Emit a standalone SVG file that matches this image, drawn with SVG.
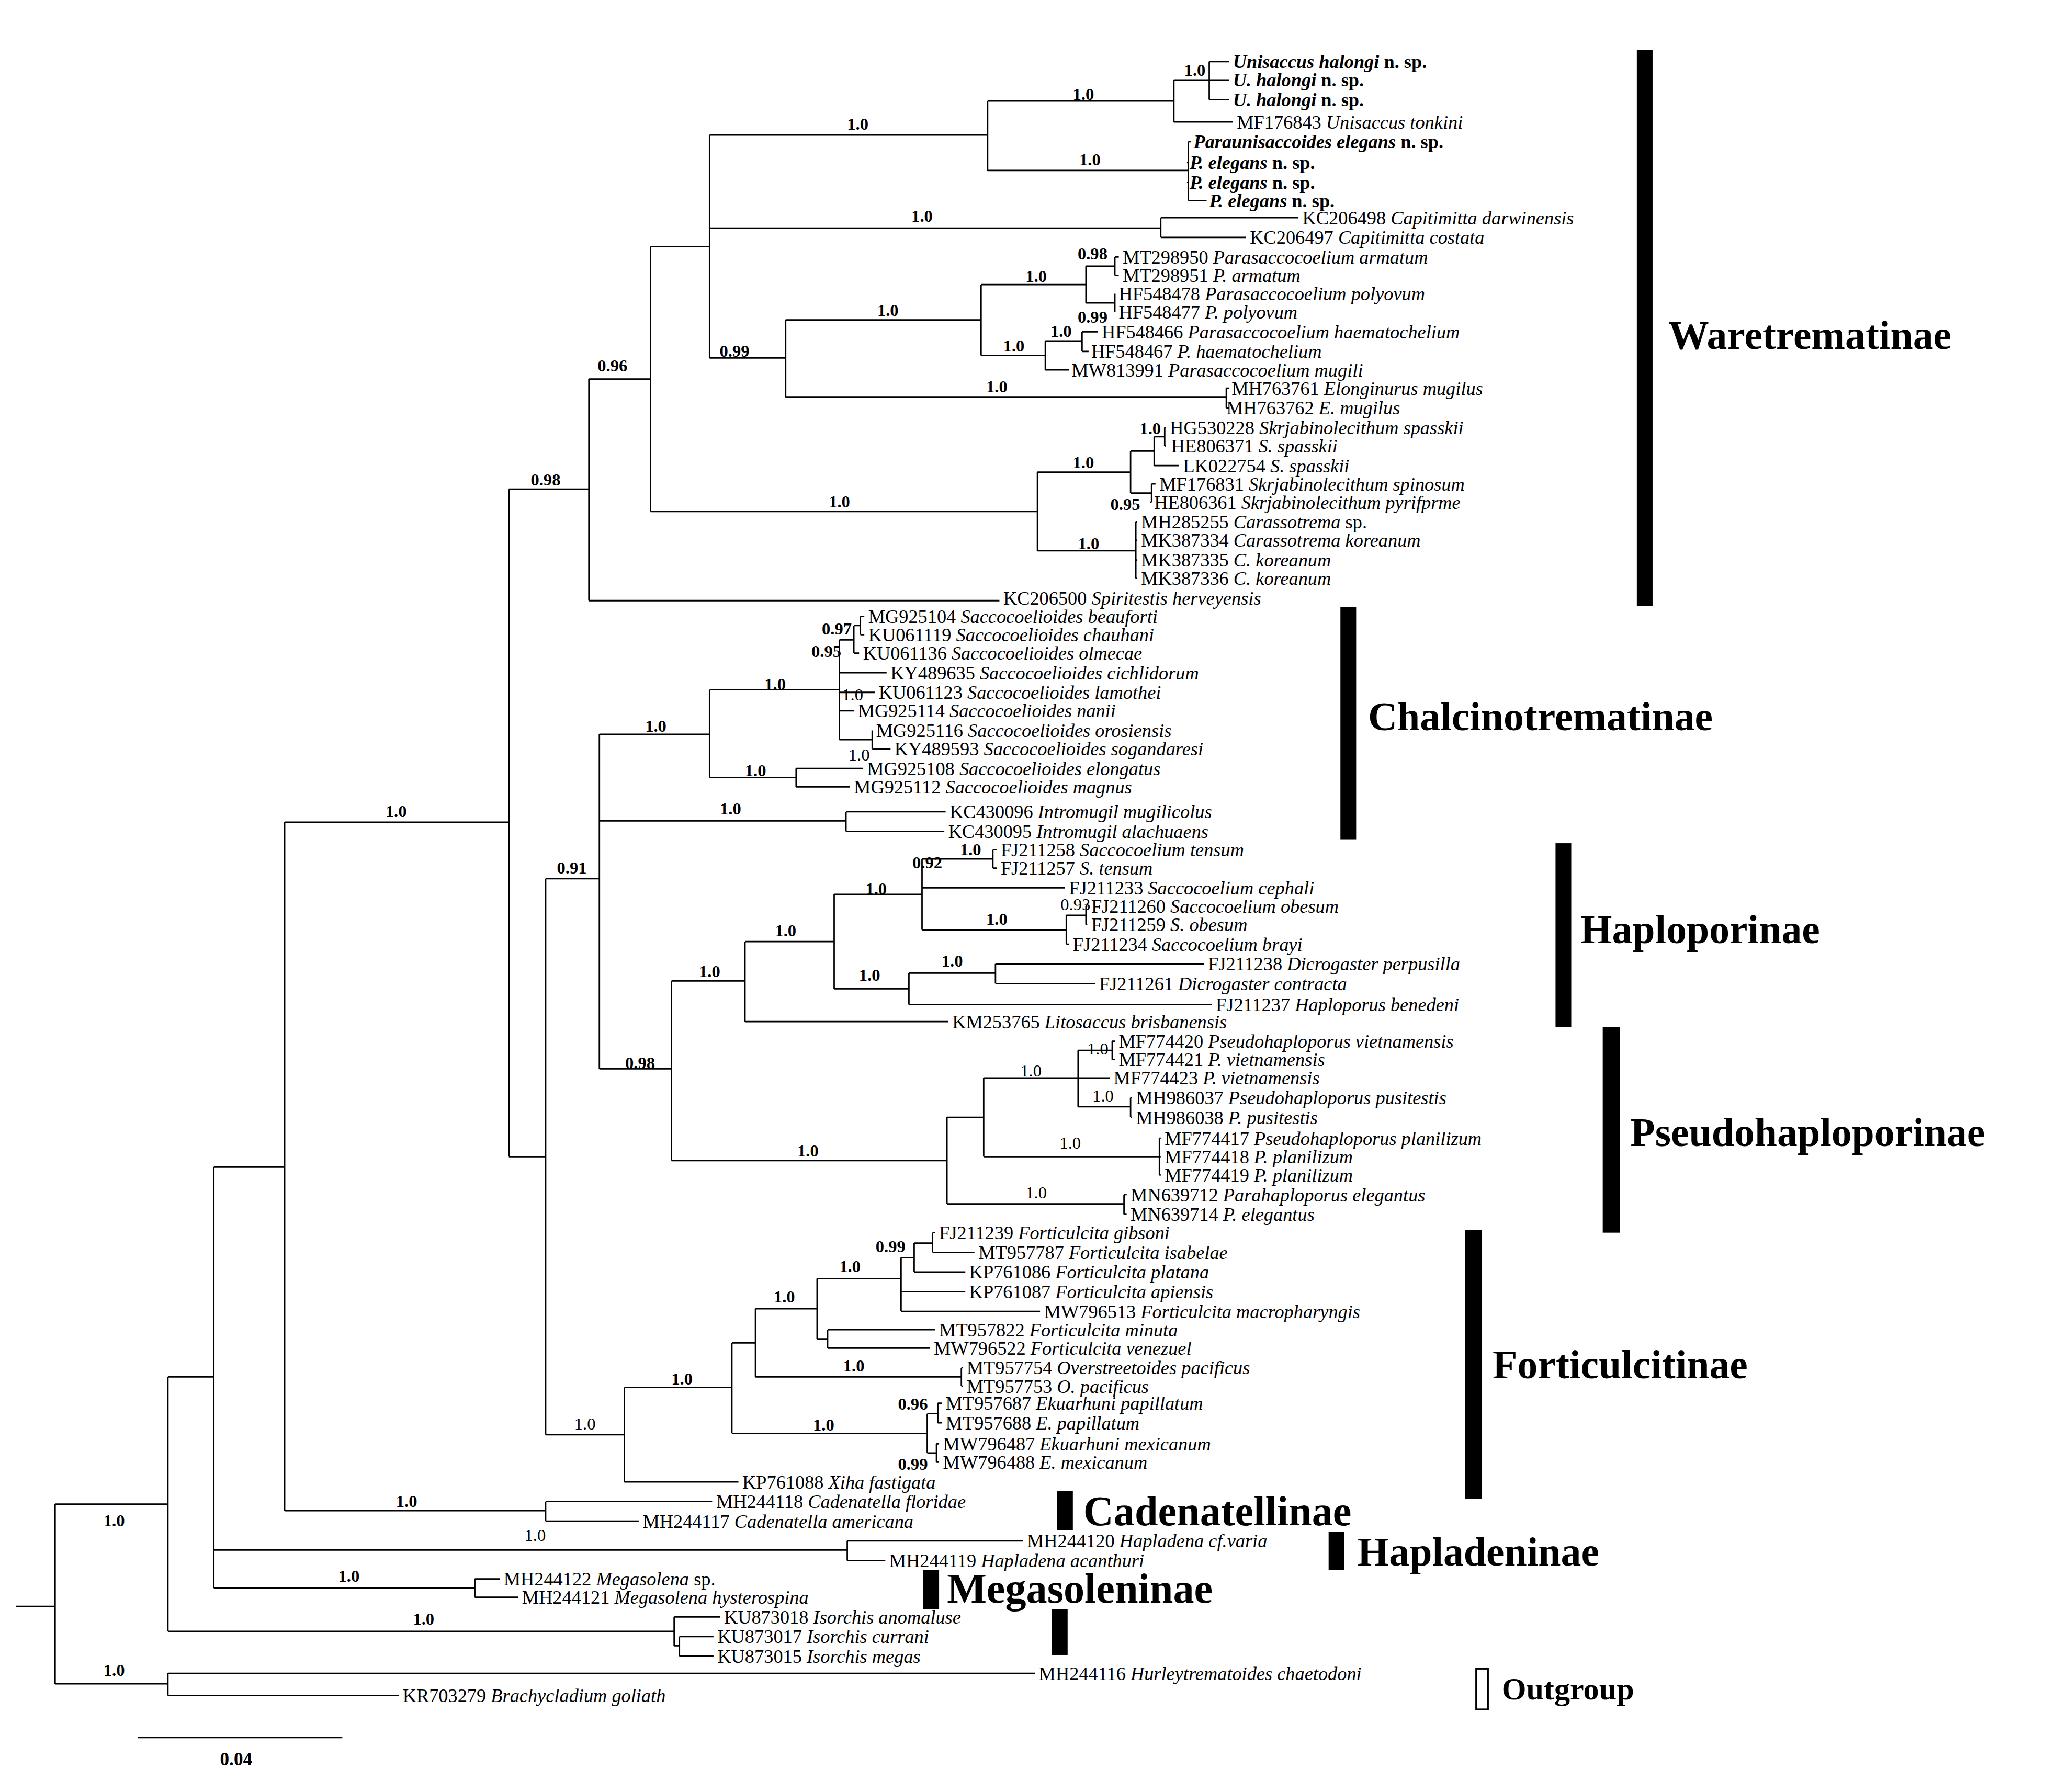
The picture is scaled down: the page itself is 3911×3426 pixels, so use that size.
<svg xmlns="http://www.w3.org/2000/svg" width="3911" height="3426" viewBox="0 0 3911 3426">
<style>
.t{font-family:"Liberation Serif",serif;font-size:14.5px;fill:#000}
.i{font-style:italic}
.b{font-weight:bold}
.s{font-family:"Liberation Serif",serif;font-size:13px;font-weight:bold;text-anchor:middle}
.n{font-family:"Liberation Serif",serif;font-size:13px;text-anchor:middle}
.c{font-family:"Liberation Serif",serif;font-weight:bold;font-size:31px}
.e{fill:none;stroke:#000;stroke-width:1.1}
</style>
<rect width="3911" height="3426" fill="#fff"/>
<g transform="scale(2.5071)">
<g id="connectors">
<path class="e" d="M922 47H937M922 61H937M922 76H937M922 47V76M895 61H922M895 93H940M895 61V93M753 77H895M906 108H908M906 124H905M906 139H905M906 153H920M906 108V153M753 130H906M753 77V130M541 103H753
M885 166H990M885 181H950M885 166V181M541 174H885
M850 196H853M850 210H853M850 196V210M850 224H850M850 238H850M850 224V238M828 203H850M828 231H850M828 203V231M748 217H828
M825 253H837M825 268H830M825 253V268M797 260H825M797 282H815M797 260V282M748 271H797M748 217V271M599 244H748
M935 296H937M935 311H937M935 296V311M599 303H935M599 244V303M541 273H599M541 103V273M496 188H541
M888 326H889M888 340H889M888 326V340M880 333H888M880 355H899M880 333V355M862 344H880M878 369H881M878 383H877M878 369V383M862 376H878M862 344V376M791 360H862
M866 398H867M866 412H867M866 427H867M866 441H867M866 398V441M791 420H866M791 360V420M496 390H791M496 188V390M449 289H496M449 458H762M449 289V458M388 373H449
M656 470H659M656 484H659M656 470V484M651 477H656M651 498H655M651 477V498M640 488H651M640 513H676M640 528H667M640 542H651M665 557H665M665 571H679M665 557V571M640 564H665M640 488V564M541 526H640
M607 586H658M607 600H648M607 586V600M541 593H607M541 526V593M457 560H541M645 619H721M645 634H720M645 619V634M457 626H645
M757 648H760M757 662H760M757 648V662M703 655H757M703 677H812M828 691H829M828 705H829M828 691V705M813 698H828M813 720H815M813 698V720M703 709H813M703 655V709M636 682H703
M759 735H918M759 750H835M759 735V750M693 742H759M693 766H924M693 742V766M636 754H693M636 682V754M568 718H636M568 779H723M568 718V779M512 748H568
M848 794H850M848 808H850M848 794V808M822 801H848M822 822H846M862 837H863M862 852H863M862 837V852M822 844H862M822 801V844M750 822H822M884 868H885M884 882H885M884 896H885M884 868V896M750 882H884M750 822V882M722 852H750M857 911H859M857 926H859M857 911V926M722 918H857M722 852V918M512 885H722M512 748V885M457 815H512M457 560V815M416 670H457
M711 940H713M711 955H743M711 940V955M697 948H711M697 970H736M697 948V970M687 959H697M687 985H736M687 1000H793M687 959V1000M623 975H687M631 1014H713M631 1028H709M631 1014V1028M623 1021H631M623 975V1021M576 998H623M733 1043H734M733 1057H734M733 1043V1057M576 1050H733M576 998V1050M558 1024H576
M715 1070H718M715 1085H718M715 1070V1085M707 1078H715M714 1101H716M714 1115H716M714 1101V1115M707 1108H714M707 1078V1108M558 1093H707M558 1024V1093M476 1058H558M476 1130H563M476 1058V1130M416 1094H476M416 670V1094M388 882H416M388 373V882M217 627H388
M416 1145H543M416 1160H487M416 1145V1160M217 1152H416M217 627V1152M163 890H217M646 1175H780M646 1190H675M646 1175V1190M163 1182H646M362 1204H381M362 1218H395M362 1204V1218M163 1211H362M163 890V1211M128 1050H163
M514 1233H549M518 1248H544M518 1263H544M518 1248V1263M514 1255H518M514 1233V1255M128 1244H514M128 1050V1244M42 1147H128M128 1276H789M128 1293H304M128 1276V1293M42 1284H128M42 1147V1284M12 1225H42
M105 1325H261"/>
</g>
<g id="tips" class="t">
<text x="940" y="52" class="b"><tspan class="i">Unisaccus halongi</tspan> n. sp.</text>
<text x="940" y="66" class="b"><tspan class="i">U. halongi</tspan> n. sp.</text>
<text x="940" y="81" class="b"><tspan class="i">U. halongi</tspan> n. sp.</text>
<text x="943" y="98">MF176843 <tspan class="i">Unisaccus tonkini</tspan></text>
<text x="910" y="113" class="b"><tspan class="i">Paraunisaccoides elegans</tspan> n. sp.</text>
<text x="907" y="129" class="b"><tspan class="i">P. elegans</tspan> n. sp.</text>
<text x="907" y="144" class="b"><tspan class="i">P. elegans</tspan> n. sp.</text>
<text x="922" y="158" class="b"><tspan class="i">P. elegans</tspan> n. sp.</text>
<text x="993" y="171">KC206498 <tspan class="i">Capitimitta darwinensis</tspan></text>
<text x="953" y="186">KC206497 <tspan class="i">Capitimitta costata</tspan></text>
<text x="856" y="201">MT298950 <tspan class="i">Parasaccocoelium armatum</tspan></text>
<text x="856" y="215">MT298951 <tspan class="i">P. armatum</tspan></text>
<text x="853" y="229">HF548478 <tspan class="i">Parasaccocoelium polyovum</tspan></text>
<text x="853" y="243">HF548477 <tspan class="i">P. polyovum</tspan></text>
<text x="840" y="258">HF548466 <tspan class="i">Parasaccocoelium haematochelium</tspan></text>
<text x="832" y="273">HF548467 <tspan class="i">P. haematochelium</tspan></text>
<text x="817" y="287">MW813991 <tspan class="i">Parasaccocoelium  mugili</tspan></text>
<text x="939" y="301">MH763761 <tspan class="i">Elonginurus mugilus</tspan></text>
<text x="935" y="316">MH763762 <tspan class="i">E. mugilus</tspan></text>
<text x="892" y="331">HG530228 <tspan class="i">Skrjabinolecithum spasskii</tspan></text>
<text x="893" y="345">HE806371 <tspan class="i">S. spasskii</tspan></text>
<text x="902" y="360">LK022754 <tspan class="i">S. spasskii</tspan></text>
<text x="884" y="374">MF176831 <tspan class="i">Skrjabinolecithum spinosum</tspan></text>
<text x="880" y="388">HE806361 <tspan class="i">Skrjabinolecithum pyrifprme</tspan></text>
<text x="870" y="403">MH285255 <tspan class="i">Carassotrema</tspan> sp.</text>
<text x="870" y="417">MK387334 <tspan class="i">Carassotrema koreanum</tspan></text>
<text x="870" y="432">MK387335 <tspan class="i">C. koreanum</tspan></text>
<text x="870" y="446">MK387336 <tspan class="i">C. koreanum</tspan></text>
<text x="765" y="461">KC206500 <tspan class="i">Spiritestis herveyensis</tspan></text>
<text x="662" y="475">MG925104 <tspan class="i">Saccocoelioides beauforti</tspan></text>
<text x="662" y="489">KU061119 <tspan class="i">Saccocoelioides chauhani</tspan></text>
<text x="658" y="503">KU061136 <tspan class="i">Saccocoelioides olmecae</tspan></text>
<text x="679" y="518">KY489635 <tspan class="i">Saccocoelioides cichlidorum</tspan></text>
<text x="670" y="533">KU061123 <tspan class="i">Saccocoelioides lamothei</tspan></text>
<text x="654" y="547">MG925114 <tspan class="i">Saccocoelioides nanii</tspan></text>
<text x="668" y="562">MG925116 <tspan class="i">Saccocoelioides orosiensis</tspan></text>
<text x="682" y="576">KY489593 <tspan class="i">Saccocoelioides sogandaresi</tspan></text>
<text x="661" y="591">MG925108 <tspan class="i">Saccocoelioides elongatus</tspan></text>
<text x="651" y="605">MG925112 <tspan class="i">Saccocoelioides magnus</tspan></text>
<text x="724" y="624">KC430096 <tspan class="i">Intromugil mugilicolus</tspan></text>
<text x="723" y="639">KC430095 <tspan class="i">Intromugil alachuaens</tspan></text>
<text x="763" y="653">FJ211258 <tspan class="i">Saccocoelium tensum</tspan></text>
<text x="763" y="667">FJ211257 <tspan class="i">S. tensum</tspan></text>
<text x="815" y="682">FJ211233 <tspan class="i">Saccocoelium cephali</tspan></text>
<text x="832" y="696">FJ211260 <tspan class="i">Saccocoelium obesum</tspan></text>
<text x="832" y="710">FJ211259 <tspan class="i">S. obesum</tspan></text>
<text x="818" y="725">FJ211234 <tspan class="i">Saccocoelium brayi</tspan></text>
<text x="921" y="740">FJ211238 <tspan class="i">Dicrogaster perpusilla</tspan></text>
<text x="838" y="755">FJ211261 <tspan class="i">Dicrogaster contracta</tspan></text>
<text x="927" y="771">FJ211237 <tspan class="i">Haploporus benedeni</tspan></text>
<text x="726" y="784">KM253765 <tspan class="i">Litosaccus brisbanensis</tspan></text>
<text x="853" y="799">MF774420 <tspan class="i">Pseudohaploporus vietnamensis</tspan></text>
<text x="853" y="813">MF774421 <tspan class="i">P. vietnamensis</tspan></text>
<text x="849" y="827">MF774423 <tspan class="i">P. vietnamensis</tspan></text>
<text x="866" y="842">MH986037 <tspan class="i">Pseudohaploporus pusitestis</tspan></text>
<text x="866" y="857">MH986038 <tspan class="i">P. pusitestis</tspan></text>
<text x="888" y="873">MF774417 <tspan class="i">Pseudohaploporus planilizum</tspan></text>
<text x="888" y="887">MF774418 <tspan class="i">P. planilizum</tspan></text>
<text x="888" y="901">MF774419 <tspan class="i">P. planilizum</tspan></text>
<text x="862" y="916">MN639712 <tspan class="i">Parahaploporus elegantus</tspan></text>
<text x="862" y="931">MN639714 <tspan class="i">P. elegantus</tspan></text>
<text x="716" y="945">FJ211239 <tspan class="i">Forticulcita gibsoni</tspan></text>
<text x="746" y="960">MT957787 <tspan class="i">Forticulcita isabelae</tspan></text>
<text x="739" y="975">KP761086 <tspan class="i">Forticulcita platana</tspan></text>
<text x="739" y="990">KP761087 <tspan class="i">Forticulcita apiensis</tspan></text>
<text x="796" y="1005">MW796513 <tspan class="i">Forticulcita macropharyngis</tspan></text>
<text x="716" y="1019">MT957822 <tspan class="i">Forticulcita minuta</tspan></text>
<text x="712" y="1033">MW796522 <tspan class="i">Forticulcita venezuel</tspan></text>
<text x="737" y="1048">MT957754 <tspan class="i">Overstreetoides  pacificus</tspan></text>
<text x="737" y="1062">MT957753 <tspan class="i">O. pacificus</tspan></text>
<text x="721" y="1075">MT957687 <tspan class="i">Ekuarhuni papillatum</tspan></text>
<text x="721" y="1090">MT957688 <tspan class="i">E. papillatum</tspan></text>
<text x="719" y="1106">MW796487 <tspan class="i">Ekuarhuni mexicanum</tspan></text>
<text x="719" y="1120">MW796488 <tspan class="i">E. mexicanum</tspan></text>
<text x="566" y="1135">KP761088 <tspan class="i">Xiha fastigata</tspan></text>
<text x="546" y="1150">MH244118 <tspan class="i">Cadenatella floridae</tspan></text>
<text x="490" y="1165">MH244117 <tspan class="i">Cadenatella americana</tspan></text>
<text x="783" y="1180">MH244120  <tspan class="i">Hapladena  cf.varia</tspan></text>
<text x="678" y="1195">MH244119 <tspan class="i">Hapladena acanthuri</tspan></text>
<text x="384" y="1209">MH244122 <tspan class="i">Megasolena</tspan> sp.</text>
<text x="398" y="1223">MH244121 <tspan class="i">Megasolena hysterospina</tspan></text>
<text x="552" y="1238">KU873018 <tspan class="i">Isorchis anomaluse</tspan></text>
<text x="547" y="1253">KU873017 <tspan class="i">Isorchis currani</tspan></text>
<text x="547" y="1268">KU873015 <tspan class="i">Isorchis megas</tspan></text>
<text x="792" y="1281">MH244116 <tspan class="i">Hurleytrematoides chaetodoni</tspan></text>
<text x="307" y="1298">KR703279 <tspan class="i">Brachycladium goliath</tspan></text>
</g>
<g id="support">
<text class="s" x="911" y="58">1.0</text><text class="s" x="826" y="76">1.0</text><text class="s" x="831" y="126">1.0</text><text class="s" x="654" y="99">1.0</text><text class="s" x="703" y="169">1.0</text>
<text class="s" x="833" y="198">0.98</text><text class="s" x="833" y="246">0.99</text><text class="s" x="809" y="257">1.0</text><text class="s" x="773" y="268">1.0</text><text class="s" x="790" y="215">1.0</text><text class="s" x="677" y="241">1.0</text><text class="s" x="560" y="272">0.99</text><text class="s" x="760" y="299">1.0</text><text class="s" x="467" y="283">0.96</text>
<text class="s" x="877" y="331">1.0</text><text class="s" x="858" y="389">0.95</text><text class="s" x="826" y="357">1.0</text><text class="s" x="830" y="419">1.0</text><text class="s" x="640" y="387">1.0</text><text class="s" x="416" y="370">0.98</text>
<text class="s" x="638" y="484">0.97</text><text class="s" x="630" y="501">0.95</text><text class="n" x="650" y="534">1.0</text><text class="n" x="655" y="580">1.0</text><text class="s" x="591" y="526">1.0</text><text class="s" x="576" y="592">1.0</text><text class="s" x="500" y="558">1.0</text><text class="s" x="557" y="621">1.0</text><text class="s" x="436" y="666">0.91</text>
<text class="s" x="740" y="652">1.0</text><text class="s" x="707" y="662">0.92</text><text class="n" x="820" y="694">0.93</text><text class="s" x="760" y="705">1.0</text><text class="s" x="668" y="682">1.0</text><text class="s" x="726" y="737">1.0</text><text class="s" x="663" y="748">1.0</text><text class="s" x="599" y="714">1.0</text><text class="s" x="541" y="745">1.0</text>
<text class="n" x="837" y="804">1.0</text><text class="n" x="841" y="840">1.0</text><text class="n" x="786" y="821">1.0</text><text class="n" x="816" y="876">1.0</text><text class="n" x="790" y="914">1.0</text><text class="s" x="616" y="882">1.0</text><text class="s" x="488" y="815">0.98</text>
<text class="s" x="679" y="955">0.99</text><text class="s" x="648" y="970">1.0</text><text class="s" x="598" y="993">1.0</text><text class="s" x="651" y="1046">1.0</text><text class="s" x="520" y="1056">1.0</text><text class="s" x="696" y="1075">0.96</text><text class="s" x="696" y="1121">0.99</text><text class="s" x="628" y="1091">1.0</text><text class="n" x="446" y="1090">1.0</text>
<text class="s" x="302" y="623">1.0</text><text class="s" x="310" y="1149">1.0</text><text class="n" x="408" y="1175">1.0</text><text class="s" x="266" y="1206">1.0</text><text class="s" x="323" y="1239">1.0</text><text class="s" x="87" y="1164">1.0</text><text class="s" x="87" y="1278">1.0</text>
<text class="s" x="180" y="1346" style="font-size:14px">0.04</text>
</g>
<g id="bars">
<rect x="1248" y="38" width="12" height="424"/><text class="c" x="1272" y="266">Waretrematinae</text>
<rect x="1022" y="463" width="12" height="177"/><text class="c" x="1043" y="557">Chalcinotrematinae</text>
<rect x="1186" y="643" width="12" height="140"/><text class="c" x="1205" y="719">Haploporinae</text>
<rect x="1222" y="783" width="13" height="157"/><text class="c" x="1243" y="874">Pseudohaploporinae</text>
<rect x="1117" y="938" width="13" height="205"/><text class="c" x="1138" y="1051">Forticulcitinae</text>
<rect x="806" y="1137" width="12" height="30"/><text class="c" x="826" y="1163" style="font-size:32px">Cadenatellinae</text>
<rect x="1013" y="1168" width="12" height="29"/><text class="c" x="1035" y="1194">Hapladeninae</text>
<rect x="704" y="1197" width="12" height="30"/><text class="c" x="722" y="1222" style="font-size:32px">Megasoleninae</text>
<rect x="802" y="1227" width="12" height="35"/>
<rect x="1125.5" y="1272.5" width="9" height="31" fill="none" stroke="#000" stroke-width="1.3"/><text class="c" x="1145" y="1296" style="font-size:24px">Outgroup</text>
</g>
</g>
</svg>
